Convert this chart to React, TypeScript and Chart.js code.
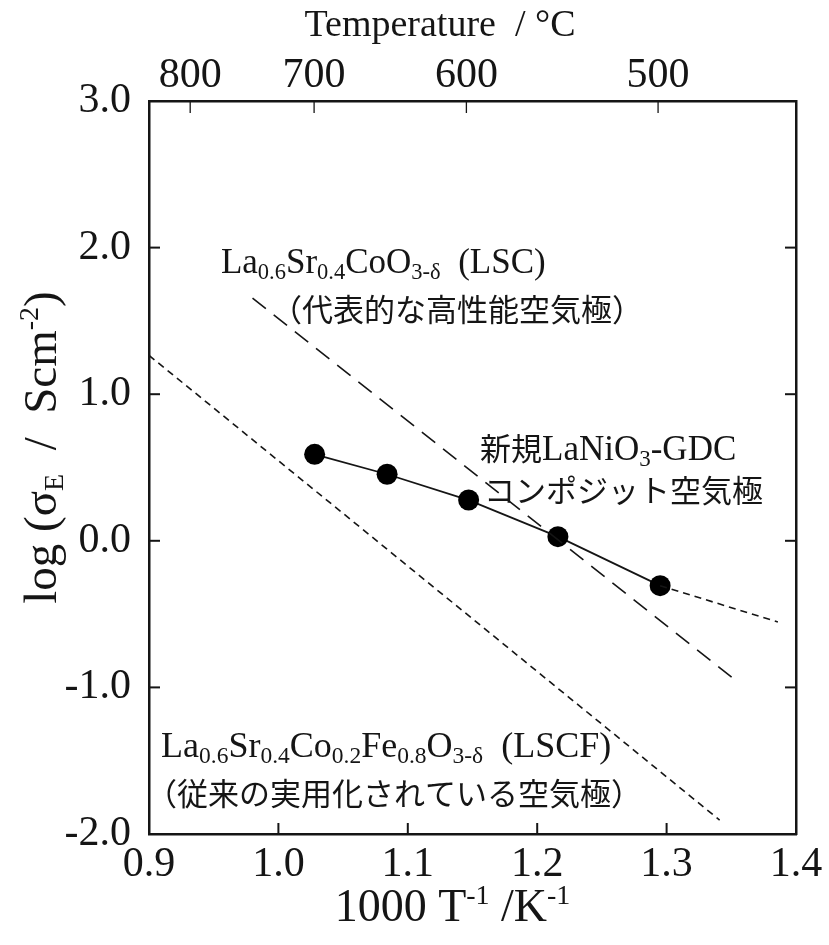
import React, { useEffect, useRef } from 'react';
import { Chart, registerables } from 'chart.js';

Chart.register(...registerables);

// ---- data ----
const X_MIN = 0.9;
const X_MAX = 1.4;
const Y_MIN = -2;
const Y_MAX = 3;
const TEMP_TICKS_C = [800, 700, 600, 500];

const LNO_X = [1.028, 1.084, 1.147, 1.216, 1.295];
const LNO_Y = [0.59, 0.454, 0.278, 0.028, -0.306];
const LNO_EXT_X = [1.295, 1.386];
const LNO_EXT_Y = [-0.306, -0.554];
const LSC_X = [0.98, 1.355];
const LSC_Y = [1.656, -0.964];
const LSCF_X = [0.9, 1.341];
const LSCF_Y = [1.265, -1.905];

const SERIF = '"Liberation Serif", "Times New Roman", serif';
const CJK = '"Noto Sans CJK JP", "Noto Sans", sans-serif';
const INK = '#151515';

type Seg = { t: string; f: 'serif' | 'cjk'; s: number; dy?: number };

// annotation anchors (data coords: left of text, baseline)
const ANNOTATIONS: { x: number; y: number; segs: Seg[] }[] = [
  {
    x: 0.9556,
    y: 1.827,
    segs: [
      { t: 'La', f: 'serif', s: 35 },
      { t: '0.6', f: 'serif', s: 22.5, dy: 6 },
      { t: 'Sr', f: 'serif', s: 35 },
      { t: '0.4', f: 'serif', s: 22.5, dy: 6 },
      { t: 'CoO', f: 'serif', s: 35 },
      { t: '3-δ', f: 'serif', s: 22.5, dy: 6 },
      { t: '  (LSC)', f: 'serif', s: 35 },
    ],
  },
  { x: 0.9943, y: 1.499, segs: [{ t: '（代表的な高性能空気極）', f: 'cjk', s: 31 }] },
  {
    x: 1.1558,
    y: 0.551,
    segs: [
      { t: '新規', f: 'cjk', s: 31 },
      { t: 'LaNiO', f: 'serif', s: 35 },
      { t: '3', f: 'serif', s: 23, dy: 6 },
      { t: '-GDC', f: 'serif', s: 35 },
    ],
  },
  { x: 1.1589, y: 0.265, segs: [{ t: 'コンポジット空気極', f: 'cjk', s: 31 }] },
  {
    x: 0.9093,
    y: -1.475,
    segs: [
      { t: 'La', f: 'serif', s: 36 },
      { t: '0.6', f: 'serif', s: 23.5, dy: 6 },
      { t: 'Sr', f: 'serif', s: 36 },
      { t: '0.4', f: 'serif', s: 23.5, dy: 6 },
      { t: 'Co', f: 'serif', s: 36 },
      { t: '0.2', f: 'serif', s: 23.5, dy: 6 },
      { t: 'Fe', f: 'serif', s: 36 },
      { t: '0.8', f: 'serif', s: 23.5, dy: 6 },
      { t: 'O', f: 'serif', s: 36 },
      { t: '3-δ', f: 'serif', s: 23.5, dy: 6 },
      { t: '  (LSCF)', f: 'serif', s: 36 },
    ],
  },
  { x: 0.8977, y: -1.802, segs: [{ t: '（従来の実用化されている空気極）', f: 'cjk', s: 31 }] },
];

const TOP_TITLE: Seg[] = [{ t: 'Temperature  / °C', f: 'serif', s: 38 }];
const X_TITLE: Seg[] = [
  { t: '1000 T', f: 'serif', s: 46 },
  { t: '-1', f: 'serif', s: 28, dy: -17 },
  { t: ' /K', f: 'serif', s: 46 },
  { t: '-1', f: 'serif', s: 28, dy: -17 },
];
const Y_TITLE: Seg[] = [
  { t: 'log (σ', f: 'serif', s: 47 },
  { t: 'E', f: 'serif', s: 28, dy: 7 },
  { t: '  /  Scm', f: 'serif', s: 47 },
  { t: '-2', f: 'serif', s: 28, dy: -18 },
  { t: ')', f: 'serif', s: 47 },
];

function fontOf(seg: Seg) {
  return `${seg.s}px ${seg.f === 'serif' ? SERIF : CJK}`;
}

function measure(ctx: CanvasRenderingContext2D, segs: Seg[]) {
  let w = 0;
  for (const s of segs) {
    ctx.font = fontOf(s);
    w += ctx.measureText(s.t).width;
  }
  return w;
}

function drawRich(ctx: CanvasRenderingContext2D, x: number, y: number, segs: Seg[]) {
  let cx = x;
  ctx.textBaseline = 'alphabetic';
  ctx.textAlign = 'left';
  for (const s of segs) {
    ctx.font = fontOf(s);
    ctx.fillText(s.t, cx, y + (s.dy || 0));
    cx += ctx.measureText(s.t).width;
  }
}

const decorPlugin = {
  id: 'decor',
  afterDatasetsDraw(chart: any) {
    const { ctx, chartArea: a, scales } = chart;
    ctx.save();
    ctx.strokeStyle = INK;
    const line = (x1: number, y1: number, x2: number, y2: number) => {
      ctx.beginPath();
      ctx.moveTo(x1, y1);
      ctx.lineTo(x2, y2);
      ctx.stroke();
    };
    // inward ticks
    ctx.lineWidth = 2;
    scales.x.ticks.forEach((t: any) => {
      const p = scales.x.getPixelForValue(t.value);
      line(p, a.bottom, p, a.bottom - 11);
    });
    ctx.lineWidth = 1.3;
    scales.xTop.ticks.forEach((t: any) => {
      const p = scales.xTop.getPixelForValue(t.value);
      line(p, a.top, p, a.top + 12);
    });
    ctx.lineWidth = 2;
    scales.y.ticks.forEach((t: any) => {
      const p = scales.y.getPixelForValue(t.value);
      line(a.left, p, a.left + 11, p);
    });
    scales.yRight.ticks.forEach((t: any) => {
      const p = scales.yRight.getPixelForValue(t.value);
      line(a.right, p, a.right - 11, p);
    });

    ctx.fillStyle = INK;
    // annotations
    for (const an of ANNOTATIONS) {
      drawRich(ctx, scales.x.getPixelForValue(an.x), scales.y.getPixelForValue(an.y), an.segs);
    }
    // titles
    const cxArea = (a.left + a.right) / 2;
    const wTop = measure(ctx, TOP_TITLE);
    drawRich(ctx, 440 - wTop / 2, 36, TOP_TITLE);
    const wX = measure(ctx, X_TITLE);
    drawRich(ctx, cxArea - 20 - wX / 2, 921, X_TITLE);
    const wY = measure(ctx, Y_TITLE);
    ctx.save();
    ctx.translate(56, (a.top + a.bottom) / 2 - 20);
    ctx.rotate(-Math.PI / 2);
    drawRich(ctx, -wY / 2, 0, Y_TITLE);
    ctx.restore();
    ctx.restore();
  },
};

export default function App() {
  const ref = useRef<HTMLCanvasElement | null>(null);
  useEffect(() => {
    if (!ref.current) return;
    const pts = (xs: number[], ys: number[]) => xs.map((x, i) => ({ x, y: ys[i] }));
    const tickFont = { family: SERIF, size: 42 };
    const border = { display: true, color: INK, width: 2.5 };
    const chart = new Chart(ref.current, {
      type: 'scatter',
      data: {
        datasets: [
          {
            data: pts(LSCF_X, LSCF_Y),
            showLine: true,
            borderColor: INK,
            borderWidth: 1.6,
            borderDash: [7, 5],
            pointRadius: 0,
          },
          {
            data: pts(LSC_X, LSC_Y),
            showLine: true,
            borderColor: INK,
            borderWidth: 1.6,
            borderDash: [17, 10],
            pointRadius: 0,
          },
          {
            data: pts(LNO_EXT_X, LNO_EXT_Y),
            showLine: true,
            borderColor: INK,
            borderWidth: 1.6,
            borderDash: [7, 5],
            pointRadius: 0,
          },
          {
            data: pts(LNO_X, LNO_Y),
            showLine: true,
            borderColor: INK,
            borderWidth: 1.8,
            pointRadius: 10.5,
            pointBackgroundColor: '#000',
            pointBorderColor: '#000',
            pointBorderWidth: 0,
          },
        ],
      } as any,
      options: {
        animation: false,
        responsive: false,
        devicePixelRatio: 1,
        layout: { padding: 0 },
        plugins: { legend: { display: false }, tooltip: { enabled: false } },
        scales: {
          x: {
            type: 'linear',
            position: 'bottom',
            min: X_MIN,
            max: X_MAX,
            ticks: {
              stepSize: 0.1,
              autoSkip: false,
              maxRotation: 0,
              padding: 6,
              color: INK,
              font: tickFont,
              callback: (v: any) => Number(v).toFixed(1),
            },
            grid: { drawOnChartArea: false, drawTicks: false },
            border,
            afterFit: (s: any) => {
              s.height = 111;
            },
          },
          xTop: {
            type: 'linear',
            position: 'top',
            min: X_MIN,
            max: X_MAX,
            afterBuildTicks: (s: any) => {
              s.ticks = TEMP_TICKS_C.map((c) => ({ value: 1000 / (c + 273.15) }));
            },
            ticks: {
              autoSkip: false,
              maxRotation: 0,
              padding: 0,
              color: INK,
              font: tickFont,
              callback: (_v: any, i: number) => String(TEMP_TICKS_C[i]),
            },
            grid: { drawOnChartArea: false, drawTicks: false },
            border,
            afterFit: (s: any) => {
              s.height = 101;
            },
          },
          y: {
            type: 'linear',
            position: 'left',
            min: Y_MIN,
            max: Y_MAX,
            ticks: {
              stepSize: 1,
              padding: 18,
              color: INK,
              font: tickFont,
              callback: (v: any) => Number(v).toFixed(1),
            },
            grid: { drawOnChartArea: false, drawTicks: false },
            border,
            afterFit: (s: any) => {
              s.width = 149;
            },
          },
          yRight: {
            type: 'linear',
            position: 'right',
            min: Y_MIN,
            max: Y_MAX,
            ticks: { stepSize: 1, display: false },
            grid: { drawOnChartArea: false, drawTicks: false },
            border,
            afterFit: (s: any) => {
              s.width = 33;
            },
          },
        },
      } as any,
      plugins: [decorPlugin],
    });
    return () => chart.destroy();
  }, []);
  return (
    <div style={{ position: 'absolute', left: 0, top: 0, width: 829, height: 945, background: '#fff' }}>
      <canvas ref={ref} width={829} height={945} style={{ display: 'block' }} />
    </div>
  );
}
